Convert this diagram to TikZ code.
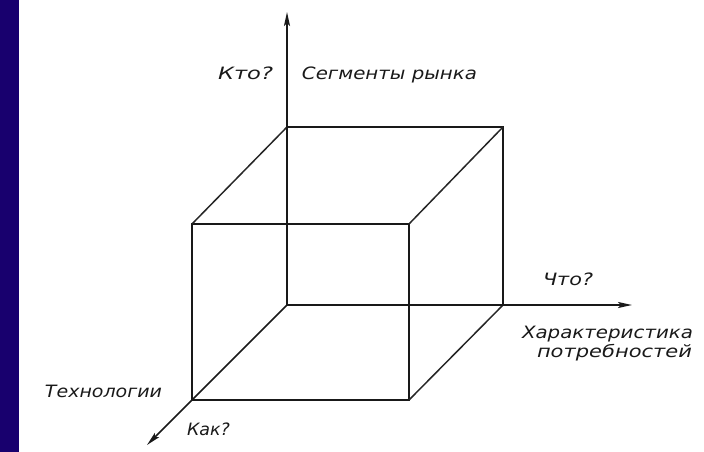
\documentclass[tikz,border=0pt]{standalone}
\usepackage{fontspec}
\usepackage{graphicx}
\setmainfont{DejaVu Sans}
\usetikzlibrary{arrows.meta}
\definecolor{barblue}{RGB}{24,0,110}
\newcommand\lbltext[2]{\resizebox{#1pt}{\height}{\itshape #2}}
\begin{document}
\begin{tikzpicture}[x=1pt,y=-1pt,
  edge/.style={line width=1.8pt, black!90},
  diag/.style={line width=1.5pt, black!85},
  axis/.style={line width=1.8pt, black!90, -{Stealth[length=14pt,width=6pt,inset=3pt]}},
  lbl/.style={inner sep=0pt, anchor=base, font=\fontsize{17}{20}\selectfont, text=black!90}]
\useasboundingbox (0,0) rectangle (704,452);
\fill[barblue] (0,0) rectangle (19,452);
% cube corners
\coordinate (O) at (287,305);
\coordinate (BTL) at (287,127);
\coordinate (BTR) at (503,127);
\coordinate (BBR) at (503,305);
\coordinate (FTL) at (192,224);
\coordinate (FTR) at (409,224);
\coordinate (FBL) at (192,400);
\coordinate (FBR) at (409,400);
% axis ends
\coordinate (Yend) at (287,12);
\coordinate (Xend) at (632,305);
\coordinate (Zend) at (147,445);
% cube
\draw[edge] (FTL) -- (FTR) -- (FBR) -- (FBL) -- cycle;
\draw[edge] (BTL) -- (BTR) -- (BBR);
\draw[diag] (BTL) -- (FTL);
\draw[diag] (BTR) -- (FTR);
\draw[diag] (BBR) -- (FBR);
% axes
\draw[axis] (O) -- (Yend);
\draw[axis] (O) -- (Xend);
\draw[axis, line width=1.5pt] (O) -- (Zend);
% labels
\node[lbl] (kto) at (245.5,79) {\lbltext{55}{Кто?}};
\node[lbl] (seg) at (389.5,79) {\lbltext{175}{Сегменты рынка}};
\node[lbl] (chto) at (568,285) {\lbltext{50}{Что?}};
\node[lbl] (har) at (607.5,338) {\lbltext{171}{Характеристика}};
\node[lbl] (potr) at (614.5,357) {\lbltext{155}{потребностей}};
\node[lbl] (teh) at (103.5,397) {\lbltext{117}{Технологии}};
\node[lbl] (kak) at (208.5,435) {\lbltext{43}{Как?}};
\end{tikzpicture}
\end{document}
